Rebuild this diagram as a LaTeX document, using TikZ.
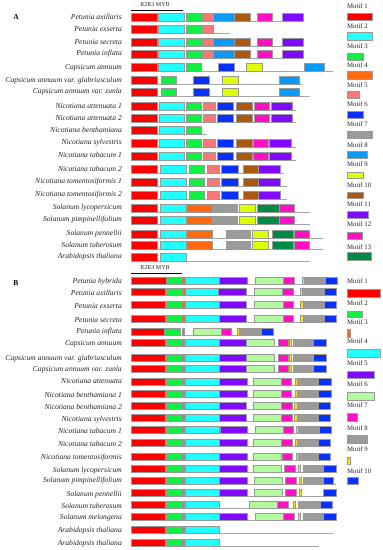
\documentclass[tikz,border=0pt]{standalone}
\usepackage{fontspec}
\setmainfont{Liberation Serif}
\definecolor{mA}{HTML}{FF0000}
\definecolor{cyA}{HTML}{22FFFF}
\definecolor{grA}{HTML}{11EE44}
\definecolor{orA}{HTML}{FF6A10}
\definecolor{saA}{HTML}{F87878}
\definecolor{blA}{HTML}{0A30FF}
\definecolor{gyA}{HTML}{9A9A9A}
\definecolor{skA}{HTML}{0A99F5}
\definecolor{ylA}{HTML}{DDFF00}
\definecolor{brA}{HTML}{AA5A10}
\definecolor{puA}{HTML}{7F0AFF}
\definecolor{mgA}{HTML}{FF10C0}
\definecolor{dgA}{HTML}{008A48}
\definecolor{lgB}{HTML}{B4F8A0}
\definecolor{ylB}{HTML}{FFE000}
\tikzset{
  motbox/.style={draw=black!40, line width=0.5pt},
  bbone/.style={draw=black!35, line width=1pt},
  splab/.style={anchor=east, inner sep=0pt, font=\fontsize{7.6}{8}\selectfont\itshape, text=black!85},
  mlab/.style={anchor=west, inner sep=0pt, font=\fontsize{6.8}{7}\selectfont, text=black!85},
  panlab/.style={inner sep=0pt, font=\fontsize{7.5}{8}\selectfont\bfseries},
  mybl/.style={inner sep=0pt, font=\fontsize{6}{6}\selectfont, text=black!85}
}
\newcommand\motifrow[4]{%
  \draw[bbone] (131,{#1+#2}) -- (#3,{#1+#2});
  \foreach \c/\a/\b in {#4}{\filldraw[motbox,fill=\c] (\a,{#1-#2}) rectangle (\b,{#1+#2});}
}
\newcommand\legbox[5]{\filldraw[motbox,fill=#1] (#2,#3) rectangle (#4,#5);}
\begin{document}
\begin{tikzpicture}[x=1pt,y=-1pt]
\useasboundingbox (0,0) rectangle (383,550);
\fill[white] (0,0) rectangle (383,550);
% ---------------- Panel A ----------------
\node[panlab] (pA) at (16,17) {A};
\node[mybl] (myba) at (155,5) {R2R3 MYB};
\coordinate (mybaL) at (131,10);
\coordinate (mybaR) at (183,10);
\draw[line width=0.8pt] (mybaL) -- (mybaR);

\node[splab] (a1) at (122,17) {Petunia axillaris};
\node[splab] (a2) at (122,29) {Petunia exserta};
\node[splab] (a3) at (122,42) {Petunia secreta};
\node[splab] (a4) at (122,54) {Petunia inflata};
\node[splab] (a5) at (122,68) {Capsicum annuum};
\node[splab] (a6) at (122,81) {Capsicum annuum var. glabriusculum};
\node[splab] (a7) at (122,92) {Capsicum annuum var. zunla};
\node[splab] (a8) at (122,106) {Nicotiana attenuata 1};
\node[splab] (a9) at (122,118) {Nicotiana attenuata  2};
\node[splab] (a10) at (122,130) {Nicotiana benthamiana};
\node[splab] (a11) at (122,143) {Nicotiana sylvestris};
\node[splab] (a12) at (122,155) {Nicotiana tabacum 1};
\node[splab] (a13) at (122,169) {Nicotiana tabacum 2};
\node[splab] (a14) at (122,182) {Nicotiana tomentosiformis 1};
\node[splab] (a15) at (122,195) {Nicotiana tomentosiformis 2};
\node[splab] (a16) at (122,208) {Solanum lycopersicum};
\node[splab] (a17) at (122,220) {Solanum pimpinellifolium};
\node[splab] (a18) at (122,234) {Solanum pennellii};
\node[splab] (a19) at (122,245) {Solanum tuberosum};
\node[splab] (a20) at (122,257) {Arabidopsis thaliana};

\motifrow{17}{4}{303}{mA/131/157,cyA/158/184,grA/186/201,saA/202/213,skA/213/234,brA/234/250,mgA/257/272,puA/282/303}
\motifrow{29}{4}{230}{mA/131/157,cyA/158/184,grA/186/201,saA/202/213}
\motifrow{42}{4}{303}{mA/131/157,cyA/158/184,grA/186/201,saA/202/213,skA/213/234,brA/234/250,mgA/257/272,puA/282/303}
\motifrow{54}{4}{303}{mA/131/157,cyA/158/184,grA/186/201,saA/202/213,skA/213/234,brA/234/250,mgA/257/272,puA/282/303}
\motifrow{67}{4}{333}{mA/131/157,cyA/158/184,grA/186/201,blA/218/234,ylA/246/262,skA/304/324}
\motifrow{80}{4}{302}{mA/131/157,grA/161/176,blA/193/209,ylA/222/238,skA/279/299}
\motifrow{92}{4}{310}{mA/131/157,grA/161/176,blA/193/209,ylA/222/238,skA/279/299}
\motifrow{106}{4}{296}{mA/131/157,cyA/159/184,grA/186/201,saA/203/215,blA/217/233,brA/236/252,mgA/254/269,puA/271/292}
\motifrow{118}{4}{296}{mA/131/157,cyA/159/184,grA/186/201,saA/203/215,blA/217/233,brA/236/252,mgA/254/269,puA/271/292}
\motifrow{130}{4}{207}{mA/131/157,cyA/159/184,grA/186/201}
\motifrow{143}{4}{296}{mA/131/157,cyA/159/184,grA/186/201,saA/203/215,blA/217/233,brA/236/252,mgA/253/268,puA/269/291}
\motifrow{156}{4}{296}{mA/131/157,cyA/159/184,grA/186/201,saA/203/215,blA/217/233,brA/236/252,mgA/253/268,puA/269/291}
\motifrow{169}{4}{284}{mA/131/157,cyA/160/186,grA/189/204,saA/207/219,blA/221/238,brA/243/258,puA/258/280}
\motifrow{182}{4}{287}{mA/131/157,cyA/160/186,grA/189/204,saA/207/219,blA/221/238,brA/243/258,puA/258/280}
\motifrow{195}{4}{287}{mA/131/157,cyA/160/186,grA/189/204,saA/207/219,blA/221/238,brA/243/258,puA/258/280}
\motifrow{208}{4}{310}{mA/131/157,cyA/160/186,orA/186/212,gyA/213/237,ylA/239/255,dgA/257/279,mgA/279/294}
\motifrow{220}{4}{310}{mA/131/157,cyA/160/186,orA/186/212,gyA/213/237,ylA/239/255,dgA/257/279,mgA/279/294}
\motifrow{234}{4}{323}{mA/131/157,cyA/160/186,orA/186/212,gyA/226/250,ylA/252/268,dgA/272/293,mgA/294/309}
\motifrow{245}{4}{323}{mA/131/157,cyA/160/186,orA/186/212,gyA/226/250,ylA/252/268,dgA/272/293,mgA/294/309}
\motifrow{257}{4}{310}{mA/131/157,cyA/160/186}

% legend A
\node[mlab] (lA1) at (347,6) {Motif 1};   \legbox{mA}{347}{13}{372}{20}
\node[mlab] (lA2) at (347,26) {Motif 2};  \legbox{cyA}{347}{32}{372}{40}
\node[mlab] (lA3) at (347,46) {Motif 3};  \legbox{grA}{347}{53}{363}{60}
\node[mlab] (lA4) at (347,65) {Motif 4};  \legbox{orA}{347}{71}{372}{79}
\node[mlab] (lA5) at (347,85) {Motif 5};  \legbox{saA}{347}{91}{359}{98}
\node[mlab] (lA6) at (347,104) {Motif 6}; \legbox{blA}{347}{111}{363}{118}
\node[mlab] (lA7) at (347,124) {Motif 7}; \legbox{gyA}{347}{131}{372}{138}
\node[mlab] (lA8) at (347,145) {Motif 8}; \legbox{skA}{347}{151}{367}{158}
\node[mlab] (lA9) at (347,164) {Motif 9}; \legbox{ylA}{347}{172}{363}{178}
\node[mlab] (lA10) at (347,185) {Motif 10}; \legbox{brA}{347}{192}{363}{198}
\node[mlab] (lA11) at (347,204) {Motif 11}; \legbox{puA}{347}{211}{368}{218}
\node[mlab] (lA12) at (347,224) {Motif 12}; \legbox{mgA}{347}{232}{362}{239}
\node[mlab] (lA13) at (347,247) {Motif 13}; \legbox{dgA}{347}{252}{371}{260}

% ---------------- Panel B ----------------
\node[panlab] (pB) at (16,283) {B};
\node[mybl] (mybb) at (155,268) {R2R3 MYB};
\coordinate (mybbL) at (131,273);
\coordinate (mybbR) at (182,273);
\draw[line width=0.8pt] (mybbL) -- (mybbR);

\node[splab] (b1) at (122,282) {Petunia hybrida};
\node[splab] (b2) at (122,293) {Petunia axillaris};
\node[splab] (b3) at (122,306) {Petunia exserta};
\node[splab] (b4) at (122,320) {Petunia secreta};
\node[splab] (b5) at (122,332) {Petunia inflata};
\node[splab] (b6) at (122,344) {Capsicum annuum};
\node[splab] (b7) at (122,359) {Capsicum annuum var. glabriusculum};
\node[splab] (b8) at (122,370) {Capsicum annuum var. zunla};
\node[splab] (b9) at (122,381) {Nicotiana attenuata};
\node[splab] (b10) at (122,395) {Nicotiana benthamiana 1};
\node[splab] (b11) at (122,407) {Nicotiana benthamiana 2};
\node[splab] (b12) at (122,420) {Nicotiana sylvestris};
\node[splab] (b13) at (122,431) {Nicotiana tabacum 1};
\node[splab] (b14) at (122,444) {Nicotiana tabacum 2};
\node[splab] (b15) at (122,458) {Nicotiana tomentosiformis};
\node[splab] (b16) at (122,471) {Solanum lycopersicum};
\node[splab] (b17) at (122,481) {Solanum pimpinellifolium};
\node[splab] (b18) at (122,495) {Solanum pennellii};
\node[splab] (b19) at (122,506) {Solanum tuberosum};
\node[splab] (b20) at (122,518) {Solanum melongena};
\node[splab] (b21) at (122,531) {Arabidopsis thaliana};
\node[splab] (b22) at (122,544) {Arabidopsis thaliana};

\motifrow{281}{3.7}{337}{mA/131/166,grA/166/182,orA/182/185,cyA/185/219,puA/219/247,lgB/255/283,mgA/283/294,ylB/302/304,gyA/304/325,blA/325/337}
\motifrow{292}{3.7}{336}{mA/131/165,grA/166/181,orA/182/185,cyA/185/218,puA/218/246,lgB/254/282,mgA/282/293,ylB/300/302,gyA/302/324,blA/324/336}
\motifrow{305}{3.7}{336}{mA/131/165,grA/166/181,orA/182/185,cyA/185/219,puA/219/246,lgB/254/283,mgA/283/293,ylB/300/303,gyA/303/324,blA/324/336}
\motifrow{319}{3.7}{336}{mA/131/165,grA/166/181,orA/182/185,cyA/185/219,puA/219/246,lgB/254/283,mgA/283/293,ylB/300/303,gyA/303/324,blA/324/336}
\motifrow{332}{3.7}{273}{mA/131/164,grA/165/180,orA/182/184,lgB/193/221,mgA/221/231,ylB/237/239,gyA/239/261,blA/261/273}
\motifrow{343}{3.7}{327}{mA/131/165,grA/166/181,orA/182/184,cyA/185/219,puA/219/246,lgB/246/274,mgA/278/288,ylB/289/291,gyA/293/313,blA/313/326}
\motifrow{358}{3.7}{327}{mA/131/165,grA/166/181,orA/182/184,cyA/185/219,puA/219/246,lgB/246/274,mgA/278/288,ylB/289/291,gyA/293/313,blA/313/326}
\motifrow{369}{3.7}{327}{mA/131/165,grA/166/181,orA/182/184,cyA/185/219,puA/219/246,lgB/246/274,mgA/278/288,ylB/289/291,gyA/293/313,blA/313/326}
\motifrow{382}{3.7}{331}{mA/131/165,grA/166/181,orA/182/184,cyA/185/219,puA/219/247,lgB/253/281,mgA/281/291,ylB/295/297,gyA/297/318,blA/318/331}
\motifrow{394}{3.7}{331}{mA/131/165,grA/166/181,orA/182/184,cyA/185/219,puA/219/247,lgB/253/281,mgA/281/291,ylB/295/297,gyA/297/318,blA/318/331}
\motifrow{406}{3.7}{330}{mA/131/165,grA/166/181,orA/182/184,cyA/185/219,puA/219/246,lgB/253/281,mgA/281/292,ylB/294/297,gyA/297/318,blA/318/330}
\motifrow{418}{3.7}{330}{mA/131/165,grA/166/181,orA/182/184,cyA/185/219,puA/219/246,lgB/253/281,mgA/281/292,ylB/294/297,gyA/297/318,blA/318/330}
\motifrow{430}{3.7}{331}{mA/131/165,grA/166/181,orA/182/184,cyA/185/219,puA/220/247,lgB/255/283,mgA/283/293,ylB/296/298,gyA/298/319,blA/319/331}
\motifrow{443}{3.7}{330}{mA/131/165,grA/166/181,orA/182/184,cyA/185/219,puA/219/247,lgB/253/281,mgA/281/292,ylB/295/297,gyA/297/318,blA/318/330}
\motifrow{457}{3.7}{330}{mA/131/165,grA/166/181,orA/182/184,cyA/185/219,puA/219/247,lgB/253/281,mgA/282/292,ylB/296/298,gyA/298/318,blA/318/330}
\motifrow{469}{3.7}{336}{mA/131/165,grA/166/181,orA/182/184,cyA/185/219,puA/219/247,lgB/253/281,mgA/284/295,ylB/298/300,gyA/303/323,blA/323/336}
\motifrow{481}{3.7}{336}{mA/131/165,grA/166/181,orA/182/184,cyA/185/219,puA/219/247,lgB/254/282,mgA/285/296,ylB/299/301,gyA/303/323,blA/323/333}
\motifrow{493}{3.7}{336}{mA/131/165,grA/166/181,orA/182/184,cyA/185/219,puA/219/247,lgB/254/282,mgA/285/296,ylB/299/301,blA/323/336}
\motifrow{505}{3.7}{332}{mA/131/165,grA/166/181,orA/182/184,cyA/185/219,lgB/249/277,mgA/277/288,ylB/293/295,gyA/298/320,blA/320/332}
\motifrow{517}{3.7}{336}{mA/131/165,grA/166/181,orA/182/184,cyA/185/219,puA/219/247,lgB/255/283,mgA/283/294,ylB/298/300,gyA/303/323,blA/323/336}
\motifrow{530}{3.7}{333}{mA/131/165,grA/166/181,orA/182/184,cyA/185/219}
\motifrow{543}{3.7}{319}{mA/131/165,grA/166/181,orA/182/184,cyA/185/219}

% legend B
\node[mlab] (lB1) at (347,281) {Motif 1};  \legbox{mA}{347}{289}{380}{297}
\node[mlab] (lB2) at (347,303) {Motif 2};  \legbox{grA}{347}{311}{362}{317}
\node[mlab] (lB3) at (347,322) {Motif 3};  \legbox{orA}{347}{329}{350}{337}
\node[mlab] (lB4) at (347,341) {Motif 4};  \legbox{cyA}{347}{349}{380}{357}
\node[mlab] (lB5) at (347,363) {Motif 5};  \legbox{puA}{347}{371}{374}{378}
\node[mlab] (lB6) at (347,384) {Motif 6};  \legbox{lgB}{347}{392}{374}{400}
\node[mlab] (lB7) at (347,405) {Motif 7};  \legbox{mgA}{347}{413}{357}{421}
\node[mlab] (lB8) at (347,428) {Motif 8};  \legbox{gyA}{347}{435}{367}{443}
\node[mlab] (lB9) at (347,449) {Motif 9};  \legbox{ylB}{347}{457}{350}{464}
\node[mlab] (lB10) at (347,471) {Motif 10}; \legbox{blA}{347}{477}{358}{484}
\end{tikzpicture}
\end{document}
